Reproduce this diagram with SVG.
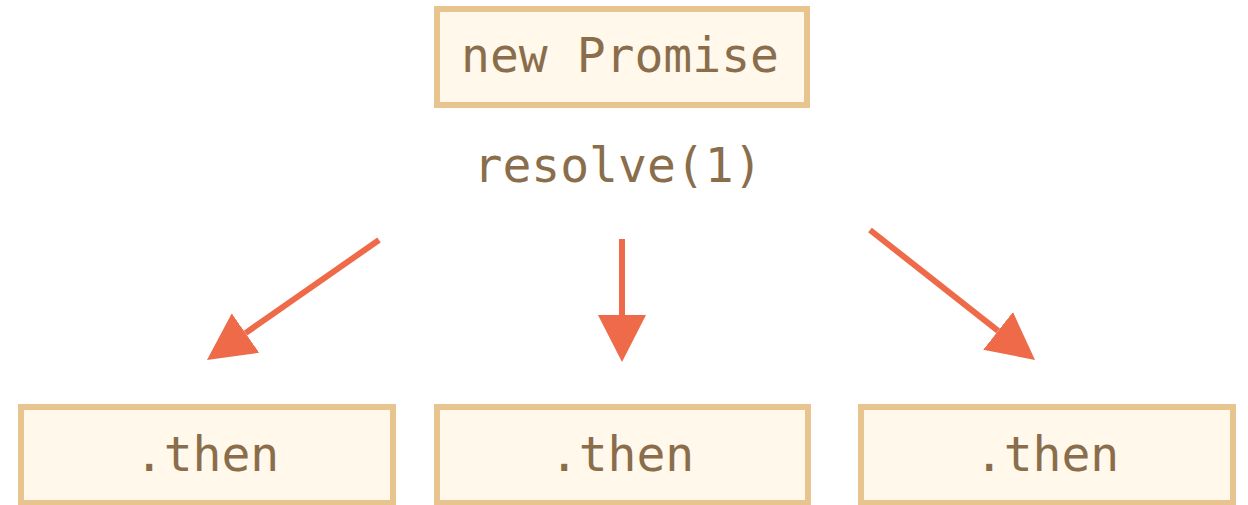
<svg xmlns="http://www.w3.org/2000/svg" width="1248" height="505" viewBox="0 0 1248 505">
  <style>
    .box { fill: #FFF8EB; stroke: #E8C48E; stroke-width: 6; }
    .lbl { font-family: "DejaVu Sans Mono", "Liberation Mono", monospace; font-size: 48px; fill: #8A6E4B; text-anchor: middle; }
    .arrow { stroke: #EE6A48; stroke-width: 6; fill: none; marker-end: url(#head); }
  </style>
  <defs>
    <marker id="head" markerUnits="userSpaceOnUse" markerWidth="47" markerHeight="48" viewBox="0 0 47 48" refX="0" refY="24" orient="auto">
      <path d="M0,0 L47,24 L0,48 Z" fill="#EE6A48"/>
    </marker>
  </defs>
  <rect width="1248" height="505" fill="#FFFFFF"/>
  <g id="new-promise">
    <rect class="box" x="437" y="9" width="370" height="96"/>
    <text class="lbl" x="620" y="72">new Promise</text>
  </g>
  <g id="resolve-label">
    <text class="lbl" x="618" y="182">resolve(1)</text>
  </g>
  <g id="then-left">
    <rect class="box" x="21" y="407" width="372" height="96"/>
    <text class="lbl" x="207" y="471">.then</text>
  </g>
  <g id="then-middle">
    <rect class="box" x="437" y="407" width="371" height="96"/>
    <text class="lbl" x="622" y="471">.then</text>
  </g>
  <g id="then-right">
    <rect class="box" x="861" y="407" width="372" height="96"/>
    <text class="lbl" x="1047" y="471">.then</text>
  </g>
  <g id="connectors">
    <line class="arrow" x1="379" y1="240" x2="245.5" y2="333.1"/>
    <line class="arrow" x1="622" y1="239" x2="622" y2="315"/>
    <line class="arrow" x1="870" y1="230" x2="998.1" y2="330.9"/>
  </g>
</svg>
